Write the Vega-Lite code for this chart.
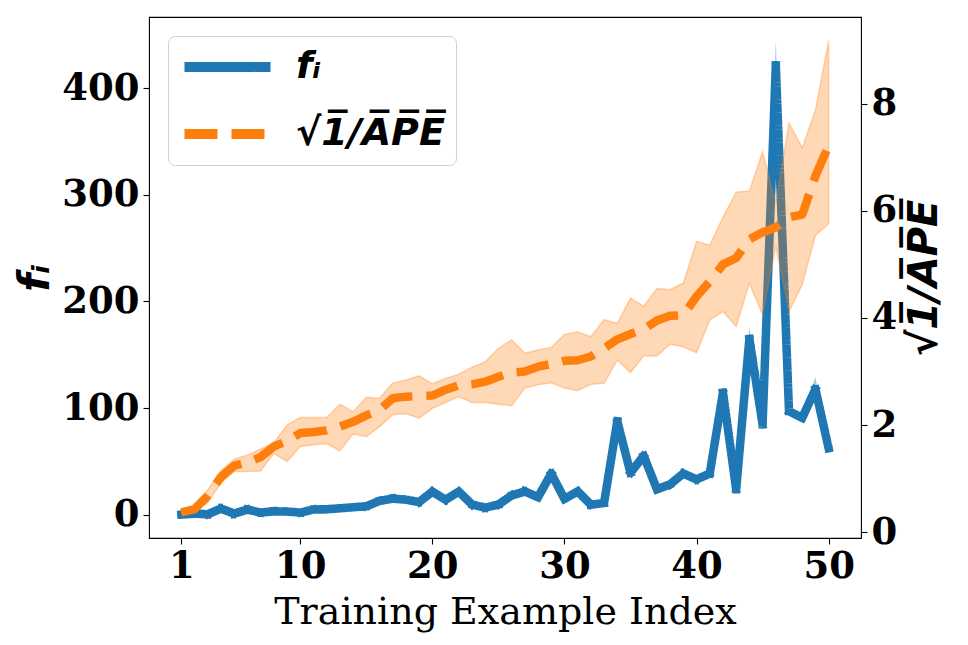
{
  "$schema": "https://vega.github.io/schema/vega-lite/v6.json",
  "width": 712,
  "height": 521,
  "autosize": {"type": "none"},
  "padding": {"left": 149, "top": 17, "right": 107, "bottom": 107},
  "background": "white",
  "config": {
    "view": {"stroke": "black", "strokeWidth": 1.1},
    "axis": {
      "grid": false,
      "domain": false,
      "tickColor": "black",
      "tickSize": 6,
      "tickWidth": 1.1,
      "labelColor": "black",
      "labelFont": "DejaVu Serif",
      "labelFontSize": 37,
      "labelFontWeight": "bold",
      "labelPadding": 4,
      "titleColor": "black"
    },
    "legend": {
      "orient": "top-left",
      "offset": 19,
      "padding": 11,
      "strokeColor": "#d0d0d0",
      "cornerRadius": 7,
      "fillColor": "rgba(255,255,255,0.8)",
      "labelFont": "DejaVu Sans",
      "labelFontSize": 38,
      "labelFontWeight": "bold",
      "labelFontStyle": "italic",
      "labelColor": "black",
      "labelOffset": 20,
      "symbolType": "stroke",
      "symbolSize": 7400,
      "symbolStrokeWidth": 10,
      "clipHeight": 40,
      "rowPadding": 27,
      "labelLimit": 400
    }
  },
  "data": {
    "values": [
      {"i": 1, "f": 0, "fl": -0.5, "fh": 0.5, "a": 0.37, "al": 0.34, "ah": 0.40},
      {"i": 2, "f": 0.9, "fl": 0.4, "fh": 1.4, "a": 0.43, "al": 0.38, "ah": 0.47},
      {"i": 3, "f": 0.3, "fl": -0.2, "fh": 0.8, "a": 0.68, "al": 0.55, "ah": 0.79},
      {"i": 4, "f": 5.6, "fl": 5.0, "fh": 6.2, "a": 1.03, "al": 0.92, "ah": 1.15},
      {"i": 5, "f": 0.9, "fl": 0.4, "fh": 1.4, "a": 1.24, "al": 1.13, "ah": 1.36},
      {"i": 6, "f": 4.7, "fl": 4.2, "fh": 5.2, "a": 1.30, "al": 1.13, "ah": 1.44},
      {"i": 7, "f": 1.9, "fl": 1.4, "fh": 2.4, "a": 1.40, "al": 1.14, "ah": 1.55},
      {"i": 8, "f": 3.1, "fl": 2.6, "fh": 3.6, "a": 1.60, "al": 1.47, "ah": 1.67},
      {"i": 9, "f": 2.8, "fl": 2.3, "fh": 3.3, "a": 1.70, "al": 1.32, "ah": 2.00},
      {"i": 10, "f": 1.9, "fl": 1.4, "fh": 2.4, "a": 1.85, "al": 1.60, "ah": 2.14},
      {"i": 11, "f": 4.7, "fl": 4.2, "fh": 5.2, "a": 1.87, "al": 1.63, "ah": 2.14},
      {"i": 12, "f": 5.0, "fl": 4.5, "fh": 5.5, "a": 1.90, "al": 1.65, "ah": 2.14},
      {"i": 13, "f": 5.9, "fl": 5.4, "fh": 6.4, "a": 1.97, "al": 1.52, "ah": 2.39},
      {"i": 14, "f": 6.9, "fl": 6.4, "fh": 7.4, "a": 2.06, "al": 1.83, "ah": 2.25},
      {"i": 15, "f": 7.8, "fl": 7.3, "fh": 8.3, "a": 2.18, "al": 1.78, "ah": 2.52},
      {"i": 16, "f": 12.8, "fl": 12.2, "fh": 13.4, "a": 2.28, "al": 1.97, "ah": 2.50},
      {"i": 17, "f": 15.0, "fl": 14.4, "fh": 15.6, "a": 2.50, "al": 2.19, "ah": 2.78},
      {"i": 18, "f": 13.9, "fl": 13.3, "fh": 14.5, "a": 2.53, "al": 2.21, "ah": 2.84},
      {"i": 19, "f": 11.8, "fl": 11.2, "fh": 12.4, "a": 2.54, "al": 2.13, "ah": 2.92},
      {"i": 20, "f": 21.5, "fl": 20.8, "fh": 22.2, "a": 2.55, "al": 2.31, "ah": 2.77},
      {"i": 21, "f": 13.9, "fl": 13.3, "fh": 14.5, "a": 2.66, "al": 2.42, "ah": 2.87},
      {"i": 22, "f": 21.5, "fl": 20.8, "fh": 22.2, "a": 2.74, "al": 2.53, "ah": 2.95},
      {"i": 23, "f": 9.5, "fl": 9.0, "fh": 10.0, "a": 2.76, "al": 2.42, "ah": 3.08},
      {"i": 24, "f": 6.5, "fl": 6.0, "fh": 7.0, "a": 2.81, "al": 2.42, "ah": 3.18},
      {"i": 25, "f": 9.4, "fl": 8.9, "fh": 9.9, "a": 2.90, "al": 2.39, "ah": 3.43},
      {"i": 26, "f": 17.9, "fl": 17.3, "fh": 18.5, "a": 2.98, "al": 2.36, "ah": 3.59},
      {"i": 27, "f": 21.7, "fl": 21.0, "fh": 22.4, "a": 3.00, "al": 2.69, "ah": 3.34},
      {"i": 28, "f": 16.3, "fl": 15.7, "fh": 16.9, "a": 3.09, "al": 2.75, "ah": 3.40},
      {"i": 29, "f": 38.5, "fl": 37.0, "fh": 40.0, "a": 3.14, "al": 2.79, "ah": 3.45},
      {"i": 30, "f": 14.7, "fl": 14.1, "fh": 15.3, "a": 3.20, "al": 2.69, "ah": 3.69},
      {"i": 31, "f": 21.7, "fl": 21.0, "fh": 22.4, "a": 3.21, "al": 2.64, "ah": 3.74},
      {"i": 32, "f": 9.3, "fl": 8.8, "fh": 9.8, "a": 3.28, "al": 2.76, "ah": 3.65},
      {"i": 33, "f": 10.9, "fl": 10.3, "fh": 11.5, "a": 3.43, "al": 2.78, "ah": 3.97},
      {"i": 34, "f": 87.6, "fl": 85.0, "fh": 91.0, "a": 3.60, "al": 3.21, "ah": 3.90},
      {"i": 35, "f": 39.2, "fl": 38.0, "fh": 40.4, "a": 3.70, "al": 2.98, "ah": 4.37},
      {"i": 36, "f": 55.1, "fl": 53.5, "fh": 57.0, "a": 3.79, "al": 3.29, "ah": 4.22},
      {"i": 37, "f": 23.7, "fl": 23.0, "fh": 24.4, "a": 3.95, "al": 3.29, "ah": 4.55},
      {"i": 38, "f": 28.4, "fl": 27.6, "fh": 29.2, "a": 4.04, "al": 3.51, "ah": 4.53},
      {"i": 39, "f": 38.5, "fl": 37.4, "fh": 39.6, "a": 4.05, "al": 3.46, "ah": 4.65},
      {"i": 40, "f": 33.0, "fl": 32.0, "fh": 34.0, "a": 4.40, "al": 3.35, "ah": 5.43},
      {"i": 41, "f": 38.5, "fl": 37.4, "fh": 39.6, "a": 4.68, "al": 3.96, "ah": 5.36},
      {"i": 42, "f": 114.5, "fl": 111.0, "fh": 119.0, "a": 5.00, "al": 4.12, "ah": 5.88},
      {"i": 43, "f": 23.7, "fl": 23.0, "fh": 24.4, "a": 5.12, "al": 3.84, "ah": 6.35},
      {"i": 44, "f": 165.0, "fl": 158.0, "fh": 176.0, "a": 5.47, "al": 4.65, "ah": 6.37},
      {"i": 45, "f": 84.4, "fl": 82.0, "fh": 87.0, "a": 5.60, "al": 4.06, "ah": 7.10},
      {"i": 46, "f": 421.7, "fl": 405.0, "fh": 445.0, "a": 5.69, "al": 5.33, "ah": 6.15},
      {"i": 47, "f": 97.0, "fl": 95.0, "fh": 99.0, "a": 5.88, "al": 4.12, "ah": 7.64},
      {"i": 48, "f": 90.8, "fl": 89.0, "fh": 92.6, "a": 5.93, "al": 4.62, "ah": 7.18},
      {"i": 49, "f": 117.7, "fl": 110.0, "fh": 129.0, "a": 6.65, "al": 5.54, "ah": 7.88},
      {"i": 50, "f": 62.3, "fl": 61.0, "fh": 63.6, "a": 7.22, "al": 5.76, "ah": 9.18}
    ]
  },
  "encoding": {
    "x": {
      "field": "i",
      "type": "quantitative",
      "scale": {"domain": [-1.45, 52.45], "nice": false, "zero": false},
      "axis": {
        "values": [1, 10, 20, 30, 40, 50],
        "format": "d",
        "title": "Training Example Index",
        "titleFont": "DejaVu Serif",
        "titleFontSize": 38,
        "titleFontWeight": "normal",
        "titlePadding": 9
      }
    }
  },
  "layer": [
    {
      "layer": [
        {
          "mark": {"type": "area", "color": "#1f77b4", "opacity": 0.4},
          "encoding": {
            "y": {"field": "fl", "type": "quantitative"},
            "y2": {"field": "fh"}
          }
        },
        {
          "mark": {"type": "line", "strokeWidth": 8.5, "strokeJoin": "round", "strokeCap": "square"},
          "encoding": {
            "y": {
              "field": "f",
              "type": "quantitative",
              "scale": {"domain": [-22, 467], "nice": false, "zero": false},
              "axis": {
                "orient": "left",
                "values": [0, 100, 200, 300, 400],
                "format": "d",
                "title": "fᵢ",
                "titleFont": "DejaVu Sans",
                "titleFontSize": 42,
                "titleFontWeight": "bold",
                "titleFontStyle": "italic",
                "titlePadding": 4
              }
            },
            "color": {
              "datum": "fᵢ",
              "type": "nominal",
              "scale": {"domain": ["fᵢ", "√1̅/A̅P̅E̅"], "range": ["#1f77b4", "#ff7f0e"]},
              "legend": {"title": null}
            },
            "strokeDash": {
              "datum": "fᵢ",
              "type": "nominal",
              "scale": {"domain": ["fᵢ", "√1̅/A̅P̅E̅"], "range": [[1, 0], [33, 14]]},
              "legend": {"title": null}
            }
          }
        }
      ]
    },
    {
      "layer": [
        {
          "mark": {"type": "area", "color": "#ff7f0e", "fillOpacity": 0.3, "stroke": "#ff7f0e", "strokeOpacity": 0.3, "strokeWidth": 1.5},
          "encoding": {
            "y": {"field": "al", "type": "quantitative"},
            "y2": {"field": "ah"}
          }
        },
        {
          "mark": {"type": "line", "strokeWidth": 8.5, "strokeJoin": "round", "strokeCap": "butt"},
          "encoding": {
            "y": {
              "field": "a",
              "type": "quantitative",
              "scale": {"domain": [-0.11, 9.62], "nice": false, "zero": false},
              "axis": {
                "orient": "right",
                "values": [0, 2, 4, 6, 8],
                "format": "d",
                "title": "√1̅/A̅P̅E̅",
                "titleFont": "DejaVu Sans",
                "titleFontSize": 40,
                "titleFontWeight": "bold",
                "titleFontStyle": "italic",
                "titleAngle": 270,
                "titleBaseline": "top",
                "titlePadding": 8
              }
            },
            "color": {
              "datum": "√1̅/A̅P̅E̅",
              "type": "nominal",
              "legend": {"title": null}
            },
            "strokeDash": {
              "datum": "√1̅/A̅P̅E̅",
              "type": "nominal",
              "legend": {"title": null}
            }
          }
        }
      ]
    }
  ],
  "resolve": {"scale": {"y": "independent"}}
}
